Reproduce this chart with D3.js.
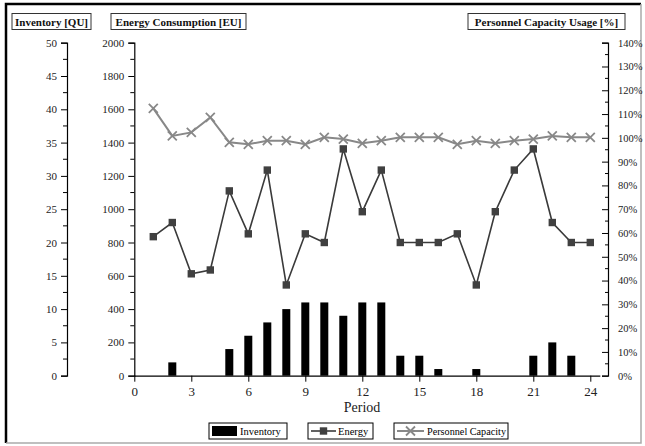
<!DOCTYPE html>
<html lang="en">
<head>
<meta charset="UTF-8">
<title>Inventory, Energy and Personnel Capacity</title>
<style>
    body { margin: 0; background: #fff; }
    svg { font-family: "Liberation Serif", "Times New Roman", serif; }
    .tick text { fill: #222; }
</style>
</head>
<body>
<div id="chart"></div>
<script src="https://d3js.org/d3.v7.min.js"></script>
<script>
const periods = d3.range(1, 25);
const inventory = [0, 2, 0, 0, 4, 6, 8, 10, 11, 11, 9, 11, 11, 3, 3, 1, 0, 1, 0, 0, 3, 5, 3, 0];
const energy = [835, 920, 612, 635, 1110, 852, 1235, 545, 852, 800, 1362, 985,
                1235, 800, 800, 800, 852, 545, 985, 1235, 1362, 920, 800, 800];
const capacity = [112.4, 100.8, 102.3, 108.6, 98.1, 97.3, 98.8, 98.8, 97.3, 100.2, 99.5, 97.7,
                  98.8, 100.2, 100.2, 100.2, 97.3, 98.8, 97.7, 98.8, 99.5, 100.8, 100.2, 100.2];
const xTicks = [0, 3, 6, 9, 12, 15, 18, 21, 24];
const invTicks = d3.range(0, 51, 5);
const energyTicks = d3.range(0, 2001, 200);
const capTicks = d3.range(0, 141, 10);

const W = 645, H = 446;
const plotTop = 42.7, plotBottom = 375.7;
const serif = '"Liberation Serif", "Times New Roman", serif';

const svg = d3.select("#chart").append("svg")
    .attr("width", W).attr("height", H);

// frame
svg.append("rect").attr("x", 0).attr("y", 0).attr("width", W).attr("height", H).attr("fill", "#fff");
svg.append("path").attr("d", "M6,443 L6,4 L641,4").attr("fill", "none").attr("stroke", "#000").attr("stroke-width", 2.5);
svg.append("path").attr("d", "M6,443 L641,443 L641,4").attr("fill", "none").attr("stroke", "#aaa").attr("stroke-width", 1.5);

const x = d3.scaleLinear().domain([0, 24.5]).range([134.3, 599.8]);
const yInv = d3.scaleLinear().domain([0, 50]).range([plotBottom, plotTop]);
const yEn = d3.scaleLinear().domain([0, 2000]).range([plotBottom, plotTop]);
const yCap = d3.scaleLinear().domain([0, 140]).range([plotBottom, plotTop]);

function minorTicks(g, scale, values, xPos, dir, len) {
    g.append("g").selectAll("line").data(values).enter().append("line")
        .attr("x1", xPos).attr("x2", xPos + dir * len)
        .attr("y1", d => scale(d)).attr("y2", d => scale(d))
        .attr("stroke", "#000");
}

function styleAxis(g, size) {
    g.attr("font-family", serif);
    g.selectAll("text").style("font-size", size + "px").attr("fill", "#222");
    g.select(".domain").attr("stroke-width", 1.2);
}

// inventory axis
const gInv = svg.append("g").attr("transform", "translate(67,0)")
    .call(d3.axisLeft(yInv).tickValues(invTicks).tickSize(6).tickPadding(4));
styleAxis(gInv, 11);
minorTicks(svg, yInv, d3.range(2.5, 50, 5), 67, -1, 4);

// energy axis
const gEn = svg.append("g").attr("transform", "translate(134.3,0)")
    .call(d3.axisLeft(yEn).tickValues(energyTicks).tickSize(6).tickPadding(4).tickFormat(d3.format("d")));
styleAxis(gEn, 11);
minorTicks(svg, yEn, d3.range(100, 2000, 200), 134.3, -1, 4);

// capacity axis
const gCap = svg.append("g").attr("transform", "translate(608,0)")
    .call(d3.axisRight(yCap).tickValues(capTicks).tickSize(-6).tickPadding(10)
        .tickFormat(d => d + "%"));
styleAxis(gCap, 10.5);
minorTicks(svg, yCap, d3.range(5, 140, 10), 608, -1, 3);

// bars
const barW = 8;
svg.selectAll(".bar").data(periods).enter().append("rect")
    .attr("class", "bar")
    .attr("x", d => x(d) - barW / 2)
    .attr("y", (d, i) => yInv(inventory[i]))
    .attr("width", barW)
    .attr("height", (d, i) => plotBottom - yInv(inventory[i]))
    .attr("fill", "#000");

// x axis
const gX = svg.append("g").attr("transform", `translate(0,${plotBottom})`)
    .call(d3.axisBottom(x).tickValues(xTicks).tickSize(6).tickPadding(5).tickSizeOuter(0));
styleAxis(gX, 13);

svg.append("text").attr("x", 362).attr("y", 412).attr("text-anchor", "middle")
    .style("font-size", "14px").attr("fill", "#222").text("Period");

// capacity line
const capLine = d3.line().x((d, i) => x(periods[i])).y(d => yCap(d));
svg.append("path").datum(capacity).attr("d", capLine)
    .attr("fill", "none").attr("stroke", "#888").attr("stroke-width", 2);
const xm = 4.5;
svg.selectAll(".xmark").data(capacity).enter().append("path")
    .attr("class", "xmark")
    .attr("d", (d, i) => {
        const cx = x(periods[i]), cy = yCap(d);
        return `M${cx - xm},${cy - xm}L${cx + xm},${cy + xm}M${cx - xm},${cy + xm}L${cx + xm},${cy - xm}`;
    })
    .attr("stroke", "#888").attr("stroke-width", 1.8).attr("fill", "none");

// energy line
const enLine = d3.line().x((d, i) => x(periods[i])).y(d => yEn(d));
svg.append("path").datum(energy).attr("d", enLine)
    .attr("fill", "none").attr("stroke", "#3a3a3a").attr("stroke-width", 1.6);
const sq = 7.4;
svg.selectAll(".sq").data(energy).enter().append("rect")
    .attr("class", "sq")
    .attr("x", (d, i) => x(periods[i]) - sq / 2)
    .attr("y", d => yEn(d) - sq / 2)
    .attr("width", sq).attr("height", sq)
    .attr("fill", "#404040");

// axis titles in boxes
const titles = [
    { text: "Inventory [QU]", x: 12, w: 79 },
    { text: "Energy Consumption [EU]", x: 111, w: 135 },
    { text: "Personnel Capacity Usage [%]", x: 468, w: 157 }
];
titles.forEach(t => {
    svg.append("rect").attr("x", t.x).attr("y", 13.5).attr("width", t.w).attr("height", 16)
        .attr("fill", "#fff").attr("stroke", "#333").attr("stroke-width", 1);
    svg.append("text").attr("x", t.x + t.w / 2).attr("y", 25.5).attr("text-anchor", "middle")
        .style("font-size", "11px").style("font-weight", "bold").attr("fill", "#111").text(t.text);
});

// legend
const ly = 423, lh = 16, lc = ly + lh / 2;
const legend = svg.append("g").attr("font-family", serif);
legend.append("rect").attr("x", 209).attr("y", ly).attr("width", 78).attr("height", lh)
    .attr("fill", "#fff").attr("stroke", "#000");
legend.append("rect").attr("x", 212).attr("y", ly + 3).attr("width", 25).attr("height", lh - 6).attr("fill", "#000");
legend.append("text").attr("x", 240).attr("y", lc + 4).style("font-size", "10.5px").text("Inventory");

legend.append("rect").attr("x", 308).attr("y", ly).attr("width", 65).attr("height", lh)
    .attr("fill", "#fff").attr("stroke", "#000");
legend.append("line").attr("x1", 311).attr("x2", 336).attr("y1", lc).attr("y2", lc)
    .attr("stroke", "#3a3a3a").attr("stroke-width", 1.6);
legend.append("rect").attr("x", 323.5 - sq / 2).attr("y", lc - sq / 2).attr("width", sq).attr("height", sq).attr("fill", "#404040");
legend.append("text").attr("x", 338).attr("y", lc + 4).style("font-size", "10.5px").text("Energy");

legend.append("rect").attr("x", 394).attr("y", ly).attr("width", 114).attr("height", lh)
    .attr("fill", "#fff").attr("stroke", "#000");
legend.append("line").attr("x1", 397).attr("x2", 424).attr("y1", lc).attr("y2", lc)
    .attr("stroke", "#888").attr("stroke-width", 2);
legend.append("path")
    .attr("d", `M${410.5 - xm},${lc - xm}L${410.5 + xm},${lc + xm}M${410.5 - xm},${lc + xm}L${410.5 + xm},${lc - xm}`)
    .attr("stroke", "#888").attr("stroke-width", 1.8);
legend.append("text").attr("x", 427).attr("y", lc + 4).style("font-size", "10.5px")
    .attr("textLength", 79).attr("lengthAdjust", "spacingAndGlyphs").text("Personnel Capacity");
</script>
</body>
</html>
